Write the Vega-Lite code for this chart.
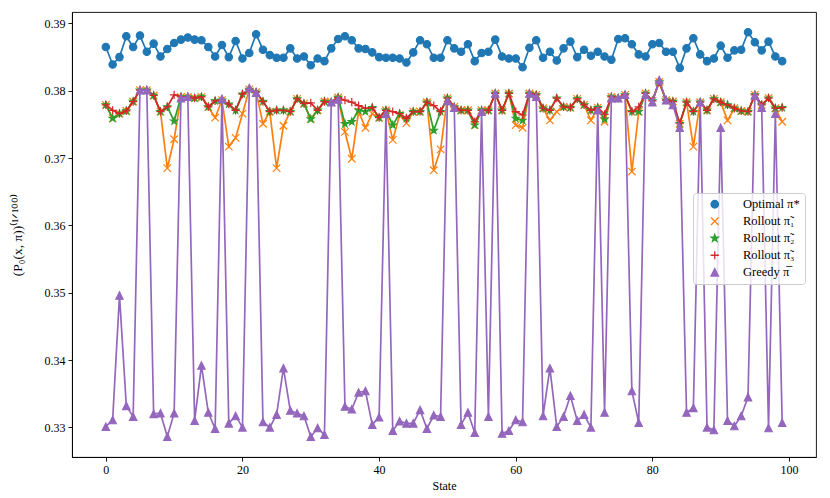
{
  "$schema": "https://vega.github.io/schema/vega-lite/v6.json",
  "autosize": {"type": "none"},
  "width": 744,
  "height": 445,
  "padding": {"left": 72, "top": 12, "right": 14, "bottom": 41},
  "background": "white",
  "config": {
    "view": {"stroke": "black", "strokeWidth": 0.9},
    "axis": {
      "grid": false,
      "domainColor": "black",
      "domainWidth": 0.9,
      "tickColor": "black",
      "tickSize": 4,
      "tickWidth": 0.9,
      "labelFont": "Liberation Serif",
      "labelFontSize": 12,
      "labelColor": "black",
      "labelPadding": 3,
      "titleFont": "Liberation Serif",
      "titleFontSize": 12,
      "titleFontWeight": "normal",
      "titleColor": "black"
    },
    "legend": {
      "orient": "none",
      "legendX": 621,
      "legendY": 181,
      "labelFont": "Liberation Serif",
      "labelFontSize": 12.5,
      "labelColor": "black",
      "symbolSize": 56,
      "symbolOffset": 10.5,
      "labelOffset": 22,
      "rowPadding": 3,
      "padding": 5,
      "strokeColor": "#cccccc",
      "fillColor": "rgba(255,255,255,0.8)",
      "cornerRadius": 3,
      "symbolStrokeWidth": 1.3
    }
  },
  "datasets": {
    "opt": [
      {"state":0,"value":0.3865},{"state":1,"value":0.3839},{"state":2,"value":0.3850},{"state":3,"value":0.3881},{"state":4,"value":0.3865},
      {"state":5,"value":0.3882},{"state":6,"value":0.3858},{"state":7,"value":0.3870},{"state":8,"value":0.3851},{"state":9,"value":0.3862},
      {"state":10,"value":0.3871},{"state":11,"value":0.3876},{"state":12,"value":0.3879},{"state":13,"value":0.3876},{"state":14,"value":0.3875},
      {"state":15,"value":0.3865},{"state":16,"value":0.3851},{"state":17,"value":0.3868},{"state":18,"value":0.3850},{"state":19,"value":0.3874},
      {"state":20,"value":0.3848},{"state":21,"value":0.3856},{"state":22,"value":0.3884},{"state":23,"value":0.3861},{"state":24,"value":0.3853},
      {"state":25,"value":0.3849},{"state":26,"value":0.3849},{"state":27,"value":0.3863},{"state":28,"value":0.3848},{"state":29,"value":0.3851},
      {"state":30,"value":0.3838},{"state":31,"value":0.3848},{"state":32,"value":0.3844},{"state":33,"value":0.3863},{"state":34,"value":0.3877},
      {"state":35,"value":0.3881},{"state":36,"value":0.3875},{"state":37,"value":0.3863},{"state":38,"value":0.3862},{"state":39,"value":0.3857},
      {"state":40,"value":0.3850},{"state":41,"value":0.3849},{"state":42,"value":0.3849},{"state":43,"value":0.3848},{"state":44,"value":0.3842},
      {"state":45,"value":0.3857},{"state":46,"value":0.3875},{"state":47,"value":0.3869},{"state":48,"value":0.3849},{"state":49,"value":0.3849},
      {"state":50,"value":0.3875},{"state":51,"value":0.3863},{"state":52,"value":0.3858},{"state":53,"value":0.3869},{"state":54,"value":0.3844},
      {"state":55,"value":0.3856},{"state":56,"value":0.3858},{"state":57,"value":0.3876},{"state":58,"value":0.3851},{"state":59,"value":0.3848},
      {"state":60,"value":0.3848},{"state":61,"value":0.3835},{"state":62,"value":0.3864},{"state":63,"value":0.3875},{"state":64,"value":0.3849},
      {"state":65,"value":0.3858},{"state":66,"value":0.3845},{"state":67,"value":0.3863},{"state":68,"value":0.3873},{"state":69,"value":0.3850},
      {"state":70,"value":0.3861},{"state":71,"value":0.3852},{"state":72,"value":0.3858},{"state":73,"value":0.3851},{"state":74,"value":0.3846},
      {"state":75,"value":0.3877},{"state":76,"value":0.3878},{"state":77,"value":0.3869},{"state":78,"value":0.3854},{"state":79,"value":0.3851},
      {"state":80,"value":0.3869},{"state":81,"value":0.3871},{"state":82,"value":0.3858},{"state":83,"value":0.3858},{"state":84,"value":0.3834},
      {"state":85,"value":0.3863},{"state":86,"value":0.3878},{"state":87,"value":0.3854},{"state":88,"value":0.3844},{"state":89,"value":0.3848},
      {"state":90,"value":0.3867},{"state":91,"value":0.3849},{"state":92,"value":0.3860},{"state":93,"value":0.3861},{"state":94,"value":0.3887},
      {"state":95,"value":0.3872},{"state":96,"value":0.3860},{"state":97,"value":0.3873},{"state":98,"value":0.3851},{"state":99,"value":0.3844}
    ],
    "r1": [
      {"state":0,"value":0.3779},{"state":1,"value":0.3759},{"state":2,"value":0.3766},{"state":3,"value":0.3770},{"state":4,"value":0.3784},
      {"state":5,"value":0.3801},{"state":6,"value":0.3801},{"state":7,"value":0.3793},{"state":8,"value":0.3769},{"state":9,"value":0.3685},
      {"state":10,"value":0.3728},{"state":11,"value":0.3791},{"state":12,"value":0.3791},{"state":13,"value":0.3789},{"state":14,"value":0.3791},
      {"state":15,"value":0.3776},{"state":16,"value":0.3760},{"state":17,"value":0.3786},{"state":18,"value":0.3717},{"state":19,"value":0.3730},
      {"state":20,"value":0.3766},{"state":21,"value":0.3802},{"state":22,"value":0.3798},{"state":23,"value":0.3751},{"state":24,"value":0.3769},
      {"state":25,"value":0.3685},{"state":26,"value":0.3748},{"state":27,"value":0.3769},{"state":28,"value":0.3788},{"state":29,"value":0.3781},
      {"state":30,"value":0.3758},{"state":31,"value":0.3771},{"state":32,"value":0.3784},{"state":33,"value":0.3783},{"state":34,"value":0.3790},
      {"state":35,"value":0.3739},{"state":36,"value":0.3699},{"state":37,"value":0.3769},{"state":38,"value":0.3745},{"state":39,"value":0.3766},
      {"state":40,"value":0.3760},{"state":41,"value":0.3771},{"state":42,"value":0.3727},{"state":43,"value":0.3764},{"state":44,"value":0.3752},
      {"state":45,"value":0.3769},{"state":46,"value":0.3769},{"state":47,"value":0.3783},{"state":48,"value":0.3682},{"state":49,"value":0.3713},
      {"state":50,"value":0.3789},{"state":51,"value":0.3776},{"state":52,"value":0.3771},{"state":53,"value":0.3771},{"state":54,"value":0.3749},
      {"state":55,"value":0.3771},{"state":56,"value":0.3771},{"state":57,"value":0.3796},{"state":58,"value":0.3771},{"state":59,"value":0.3796},
      {"state":60,"value":0.3749},{"state":61,"value":0.3745},{"state":62,"value":0.3796},{"state":63,"value":0.3794},{"state":64,"value":0.3774},
      {"state":65,"value":0.3756},{"state":66,"value":0.3769},{"state":67,"value":0.3776},{"state":68,"value":0.3775},{"state":69,"value":0.3788},
      {"state":70,"value":0.3779},{"state":71,"value":0.3756},{"state":72,"value":0.3775},{"state":73,"value":0.3754},{"state":74,"value":0.3791},
      {"state":75,"value":0.3789},{"state":76,"value":0.3794},{"state":77,"value":0.3680},{"state":78,"value":0.3769},{"state":79,"value":0.3796},
      {"state":80,"value":0.3785},{"state":81,"value":0.3813},{"state":82,"value":0.3786},{"state":83,"value":0.3784},{"state":84,"value":0.3751},
      {"state":85,"value":0.3783},{"state":86,"value":0.3717},{"state":87,"value":0.3783},{"state":88,"value":0.3771},{"state":89,"value":0.3788},
      {"state":90,"value":0.3783},{"state":91,"value":0.3756},{"state":92,"value":0.3774},{"state":93,"value":0.3770},{"state":94,"value":0.3769},
      {"state":95,"value":0.3794},{"state":96,"value":0.3779},{"state":97,"value":0.3789},{"state":98,"value":0.3774},{"state":99,"value":0.3754}
    ],
    "r2": [
      {"state":0,"value":0.3779},{"state":1,"value":0.3759},{"state":2,"value":0.3766},{"state":3,"value":0.3770},{"state":4,"value":0.3784},
      {"state":5,"value":0.3801},{"state":6,"value":0.3801},{"state":7,"value":0.3793},{"state":8,"value":0.3769},{"state":9,"value":0.3776},
      {"state":10,"value":0.3755},{"state":11,"value":0.3791},{"state":12,"value":0.3791},{"state":13,"value":0.3789},{"state":14,"value":0.3791},
      {"state":15,"value":0.3776},{"state":16,"value":0.3785},{"state":17,"value":0.3786},{"state":18,"value":0.3780},{"state":19,"value":0.3771},
      {"state":20,"value":0.3795},{"state":21,"value":0.3802},{"state":22,"value":0.3798},{"state":23,"value":0.3784},{"state":24,"value":0.3769},
      {"state":25,"value":0.3771},{"state":26,"value":0.3771},{"state":27,"value":0.3769},{"state":28,"value":0.3788},{"state":29,"value":0.3781},
      {"state":30,"value":0.3758},{"state":31,"value":0.3771},{"state":32,"value":0.3784},{"state":33,"value":0.3783},{"state":34,"value":0.3790},
      {"state":35,"value":0.3751},{"state":36,"value":0.3754},{"state":37,"value":0.3771},{"state":38,"value":0.3769},{"state":39,"value":0.3775},
      {"state":40,"value":0.3760},{"state":41,"value":0.3771},{"state":42,"value":0.3749},{"state":43,"value":0.3766},{"state":44,"value":0.3759},
      {"state":45,"value":0.3769},{"state":46,"value":0.3769},{"state":47,"value":0.3783},{"state":48,"value":0.3741},{"state":49,"value":0.3769},
      {"state":50,"value":0.3789},{"state":51,"value":0.3776},{"state":52,"value":0.3771},{"state":53,"value":0.3771},{"state":54,"value":0.3749},
      {"state":55,"value":0.3771},{"state":56,"value":0.3771},{"state":57,"value":0.3796},{"state":58,"value":0.3771},{"state":59,"value":0.3796},
      {"state":60,"value":0.3759},{"state":61,"value":0.3756},{"state":62,"value":0.3796},{"state":63,"value":0.3794},{"state":64,"value":0.3774},
      {"state":65,"value":0.3771},{"state":66,"value":0.3789},{"state":67,"value":0.3776},{"state":68,"value":0.3775},{"state":69,"value":0.3788},
      {"state":70,"value":0.3779},{"state":71,"value":0.3771},{"state":72,"value":0.3775},{"state":73,"value":0.3758},{"state":74,"value":0.3791},
      {"state":75,"value":0.3789},{"state":76,"value":0.3794},{"state":77,"value":0.3769},{"state":78,"value":0.3769},{"state":79,"value":0.3796},
      {"state":80,"value":0.3785},{"state":81,"value":0.3813},{"state":82,"value":0.3786},{"state":83,"value":0.3784},{"state":84,"value":0.3751},
      {"state":85,"value":0.3783},{"state":86,"value":0.3769},{"state":87,"value":0.3783},{"state":88,"value":0.3771},{"state":89,"value":0.3788},
      {"state":90,"value":0.3783},{"state":91,"value":0.3779},{"state":92,"value":0.3774},{"state":93,"value":0.3770},{"state":94,"value":0.3769},
      {"state":95,"value":0.3794},{"state":96,"value":0.3779},{"state":97,"value":0.3789},{"state":98,"value":0.3774},{"state":99,"value":0.3775}
    ],
    "r3": [
      {"state":0,"value":0.3779},{"state":1,"value":0.3771},{"state":2,"value":0.3766},{"state":3,"value":0.3770},{"state":4,"value":0.3784},
      {"state":5,"value":0.3801},{"state":6,"value":0.3801},{"state":7,"value":0.3793},{"state":8,"value":0.3769},{"state":9,"value":0.3776},
      {"state":10,"value":0.3794},{"state":11,"value":0.3791},{"state":12,"value":0.3791},{"state":13,"value":0.3789},{"state":14,"value":0.3791},
      {"state":15,"value":0.3776},{"state":16,"value":0.3785},{"state":17,"value":0.3786},{"state":18,"value":0.3780},{"state":19,"value":0.3771},
      {"state":20,"value":0.3795},{"state":21,"value":0.3802},{"state":22,"value":0.3798},{"state":23,"value":0.3784},{"state":24,"value":0.3769},
      {"state":25,"value":0.3771},{"state":26,"value":0.3771},{"state":27,"value":0.3769},{"state":28,"value":0.3788},{"state":29,"value":0.3781},
      {"state":30,"value":0.3782},{"state":31,"value":0.3771},{"state":32,"value":0.3784},{"state":33,"value":0.3783},{"state":34,"value":0.3790},
      {"state":35,"value":0.3786},{"state":36,"value":0.3783},{"state":37,"value":0.3778},{"state":38,"value":0.3774},{"state":39,"value":0.3775},
      {"state":40,"value":0.3760},{"state":41,"value":0.3771},{"state":42,"value":0.3769},{"state":43,"value":0.3766},{"state":44,"value":0.3759},
      {"state":45,"value":0.3769},{"state":46,"value":0.3769},{"state":47,"value":0.3783},{"state":48,"value":0.3778},{"state":49,"value":0.3769},
      {"state":50,"value":0.3789},{"state":51,"value":0.3776},{"state":52,"value":0.3771},{"state":53,"value":0.3771},{"state":54,"value":0.3754},
      {"state":55,"value":0.3771},{"state":56,"value":0.3771},{"state":57,"value":0.3796},{"state":58,"value":0.3771},{"state":59,"value":0.3796},
      {"state":60,"value":0.3769},{"state":61,"value":0.3764},{"state":62,"value":0.3796},{"state":63,"value":0.3794},{"state":64,"value":0.3774},
      {"state":65,"value":0.3771},{"state":66,"value":0.3789},{"state":67,"value":0.3776},{"state":68,"value":0.3775},{"state":69,"value":0.3788},
      {"state":70,"value":0.3779},{"state":71,"value":0.3771},{"state":72,"value":0.3775},{"state":73,"value":0.3765},{"state":74,"value":0.3791},
      {"state":75,"value":0.3789},{"state":76,"value":0.3794},{"state":77,"value":0.3769},{"state":78,"value":0.3776},{"state":79,"value":0.3796},
      {"state":80,"value":0.3785},{"state":81,"value":0.3813},{"state":82,"value":0.3786},{"state":83,"value":0.3784},{"state":84,"value":0.3751},
      {"state":85,"value":0.3783},{"state":86,"value":0.3769},{"state":87,"value":0.3783},{"state":88,"value":0.3771},{"state":89,"value":0.3788},
      {"state":90,"value":0.3783},{"state":91,"value":0.3779},{"state":92,"value":0.3774},{"state":93,"value":0.3770},{"state":94,"value":0.3769},
      {"state":95,"value":0.3794},{"state":96,"value":0.3779},{"state":97,"value":0.3789},{"state":98,"value":0.3774},{"state":99,"value":0.3775}
    ],
    "greedy": [
      {"state":0,"value":0.3301},{"state":1,"value":0.3311},{"state":2,"value":0.3496},{"state":3,"value":0.3332},{"state":4,"value":0.3316},
      {"state":5,"value":0.3801},{"state":6,"value":0.3801},{"state":7,"value":0.3320},{"state":8,"value":0.3321},{"state":9,"value":0.3286},
      {"state":10,"value":0.3321},{"state":11,"value":0.3789},{"state":12,"value":0.3791},{"state":13,"value":0.3310},{"state":14,"value":0.3392},
      {"state":15,"value":0.3322},{"state":16,"value":0.3298},{"state":17,"value":0.3788},{"state":18,"value":0.3306},{"state":19,"value":0.3317},
      {"state":20,"value":0.3300},{"state":21,"value":0.3804},{"state":22,"value":0.3797},{"state":23,"value":0.3308},{"state":24,"value":0.3300},
      {"state":25,"value":0.3319},{"state":26,"value":0.3388},{"state":27,"value":0.3325},{"state":28,"value":0.3321},{"state":29,"value":0.3317},
      {"state":30,"value":0.3286},{"state":31,"value":0.3299},{"state":32,"value":0.3289},{"state":33,"value":0.3783},{"state":34,"value":0.3787},
      {"state":35,"value":0.3331},{"state":36,"value":0.3327},{"state":37,"value":0.3352},{"state":38,"value":0.3354},{"state":39,"value":0.3304},
      {"state":40,"value":0.3315},{"state":41,"value":0.3766},{"state":42,"value":0.3295},{"state":43,"value":0.3309},{"state":44,"value":0.3306},
      {"state":45,"value":0.3306},{"state":46,"value":0.3326},{"state":47,"value":0.3298},{"state":48,"value":0.3318},{"state":49,"value":0.3316},
      {"state":50,"value":0.3785},{"state":51,"value":0.3775},{"state":52,"value":0.3304},{"state":53,"value":0.3322},{"state":54,"value":0.3292},
      {"state":55,"value":0.3769},{"state":56,"value":0.3316},{"state":57,"value":0.3796},{"state":58,"value":0.3291},{"state":59,"value":0.3295},
      {"state":60,"value":0.3311},{"state":61,"value":0.3308},{"state":62,"value":0.3796},{"state":63,"value":0.3791},{"state":64,"value":0.3317},
      {"state":65,"value":0.3388},{"state":66,"value":0.3301},{"state":67,"value":0.3316},{"state":68,"value":0.3347},{"state":69,"value":0.3310},
      {"state":70,"value":0.3319},{"state":71,"value":0.3300},{"state":72,"value":0.3771},{"state":73,"value":0.3322},{"state":74,"value":0.3789},
      {"state":75,"value":0.3789},{"state":76,"value":0.3794},{"state":77,"value":0.3354},{"state":78,"value":0.3307},{"state":79,"value":0.3794},
      {"state":80,"value":0.3783},{"state":81,"value":0.3816},{"state":82,"value":0.3786},{"state":83,"value":0.3779},{"state":84,"value":0.3745},
      {"state":85,"value":0.3322},{"state":86,"value":0.3329},{"state":87,"value":0.3783},{"state":88,"value":0.3300},{"state":89,"value":0.3296},
      {"state":90,"value":0.3745},{"state":91,"value":0.3310},{"state":92,"value":0.3302},{"state":93,"value":0.3317},{"state":94,"value":0.3345},
      {"state":95,"value":0.3793},{"state":96,"value":0.3775},{"state":97,"value":0.3299},{"state":98,"value":0.3766},{"state":99,"value":0.3307}
    ]
  },
  "encoding": {
    "x": {
      "field": "state",
      "type": "quantitative",
      "title": "State",
      "scale": {"domain": [-4.95, 103.95], "nice": false, "zero": false},
      "axis": {"values": [0, 20, 40, 60, 80, 100], "format": "d", "titlePadding": 5}
    },
    "y": {
      "field": "value",
      "type": "quantitative",
      "title": "(P₀(x, π))⁽¹ᐟ¹⁰⁰⁾",
      "scale": {"domain": [0.3256, 0.3917], "nice": false, "zero": false},
      "axis": {"values": [0.33, 0.34, 0.35, 0.36, 0.37, 0.38, 0.39], "format": ".2f", "titlePadding": 20, "titleFontSize": 13.5}
    }
  },
  "layer": [
    {
      "data": {"name": "opt"},
      "layer": [
        {"mark": {"type": "line", "color": "#1f77b4", "strokeWidth": 1.7}},
        {
          "mark": {"type": "point", "filled": true, "opacity": 1, "size": 56, "strokeWidth": 1.1},
          "encoding": {
            "color": {
              "datum": "opt",
              "type": "nominal",
              "scale": {
                "domain": ["opt", "r1", "r2", "r3", "greedy"],
                "range": ["#1f77b4", "#ff7f0e", "#2ca02c", "#d62728", "#9467bd"]
              },
              "legend": {
                "title": null,
                "labelExpr": "{'opt': 'Optimal π*', 'r1': 'Rollout π̃₁', 'r2': 'Rollout π̃₂', 'r3': 'Rollout π̃₃', 'greedy': 'Greedy π̅'}[datum.value]"
              }
            },
            "stroke": {
              "datum": "opt",
              "type": "nominal",
              "scale": {
                "domain": ["opt", "r1", "r2", "r3", "greedy"],
                "range": ["#1f77b4", "#ff7f0e", "#2ca02c", "#d62728", "#9467bd"]
              },
              "legend": {
                "title": null,
                "labelExpr": "{'opt': 'Optimal π*', 'r1': 'Rollout π̃₁', 'r2': 'Rollout π̃₂', 'r3': 'Rollout π̃₃', 'greedy': 'Greedy π̅'}[datum.value]"
              }
            },
            "shape": {
              "datum": "opt",
              "type": "nominal",
              "scale": {
                "domain": ["opt", "r1", "r2", "r3", "greedy"],
                "range": [
                  "M1,0A1,1,0,1,1,-1,0A1,1,0,1,1,1,0Z",
                  "M-1,-1L1,1M-1,1L1,-1",
                  "M0,-1L0.235,-0.324L0.951,-0.309L0.38,0.124L0.588,0.809L0,0.4L-0.588,0.809L-0.38,0.124L-0.951,-0.309L-0.235,-0.324Z",
                  "M-1.1,0L1.1,0M0,-1.1L0,1.1",
                  "M0,-1L1,1L-1,1Z"
                ]
              },
              "legend": {
                "title": null,
                "labelExpr": "{'opt': 'Optimal π*', 'r1': 'Rollout π̃₁', 'r2': 'Rollout π̃₂', 'r3': 'Rollout π̃₃', 'greedy': 'Greedy π̅'}[datum.value]"
              }
            }
          }
        }
      ]
    },
    {
      "data": {"name": "r1"},
      "layer": [
        {"mark": {"type": "line", "color": "#ff7f0e", "strokeWidth": 1.7}},
        {
          "mark": {"type": "point", "filled": true, "opacity": 1, "size": 56, "strokeWidth": 1.2},
          "encoding": {
            "color": {"datum": "r1", "type": "nominal"},
            "stroke": {"datum": "r1", "type": "nominal"},
            "shape": {"datum": "r1", "type": "nominal"}
          }
        }
      ]
    },
    {
      "data": {"name": "r2"},
      "layer": [
        {"mark": {"type": "line", "color": "#2ca02c", "strokeWidth": 1.7}},
        {
          "mark": {"type": "point", "filled": true, "opacity": 1, "size": 56, "strokeWidth": 1.1},
          "encoding": {
            "color": {"datum": "r2", "type": "nominal"},
            "stroke": {"datum": "r2", "type": "nominal"},
            "shape": {"datum": "r2", "type": "nominal"}
          }
        }
      ]
    },
    {
      "data": {"name": "r3"},
      "layer": [
        {"mark": {"type": "line", "color": "#d62728", "strokeWidth": 1.7}},
        {
          "mark": {"type": "point", "filled": true, "opacity": 1, "size": 56, "strokeWidth": 1.2},
          "encoding": {
            "color": {"datum": "r3", "type": "nominal"},
            "stroke": {"datum": "r3", "type": "nominal"},
            "shape": {"datum": "r3", "type": "nominal"}
          }
        }
      ]
    },
    {
      "data": {"name": "greedy"},
      "layer": [
        {"mark": {"type": "line", "color": "#9467bd", "strokeWidth": 1.7}},
        {
          "mark": {"type": "point", "filled": true, "opacity": 1, "size": 56, "strokeWidth": 1.1},
          "encoding": {
            "color": {"datum": "greedy", "type": "nominal"},
            "stroke": {"datum": "greedy", "type": "nominal"},
            "shape": {"datum": "greedy", "type": "nominal"}
          }
        }
      ]
    }
  ]
}
